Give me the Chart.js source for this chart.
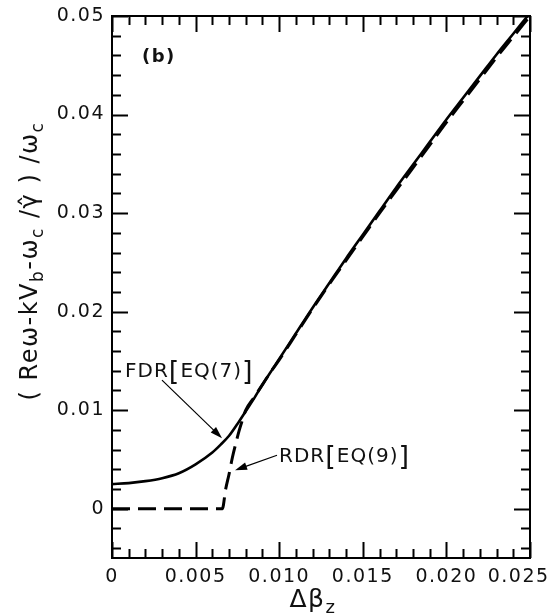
<!DOCTYPE html>
<html><head><meta charset="utf-8">
<script src="https://cdn.jsdelivr.net/npm/chart.js@4"></script>
<style>html,body{margin:0;padding:0;background:#fff}canvas{display:block}</style>
</head><body>
<canvas id="c" width="555" height="614"></canvas>
<script>
// ---- data ----
const fdrX = [0, 0.001, 0.002, 0.003, 0.004, 0.005, 0.006, 0.0065, 0.007, 0.0075, 0.008, 0.0085, 0.009, 0.0095, 0.010, 0.011, 0.012, 0.013, 0.014, 0.015, 0.016, 0.017, 0.018, 0.019, 0.020, 0.021, 0.022, 0.023, 0.024, 0.025];
const fdrY = [0.0025, 0.0026, 0.0028, 0.0031, 0.0036, 0.0045, 0.0057, 0.0065, 0.0074, 0.0086, 0.0099, 0.0112, 0.0126, 0.0139, 0.0152, 0.0178, 0.0204, 0.0229, 0.0254, 0.0278, 0.0302, 0.0326, 0.0349, 0.0372, 0.0395, 0.0417, 0.0439, 0.0461, 0.0482, 0.0503];
const rdrX = [0, 0.0066, 0.0068, 0.0070, 0.0072, 0.0074, 0.0076, 0.0078, 0.0080, 0.0085, 0.0090, 0.0095, 0.010, 0.011, 0.012, 0.013, 0.014, 0.015, 0.016, 0.017, 0.018, 0.019, 0.020, 0.021, 0.022, 0.023, 0.024, 0.025];
const rdrY = [0, 0, 0.0020, 0.0035, 0.0052, 0.0066, 0.0079, 0.0090, 0.0100, 0.0113, 0.0126, 0.0139, 0.0151, 0.0177, 0.0203, 0.0228, 0.0252, 0.0276, 0.0300, 0.0323, 0.0346, 0.0369, 0.0392, 0.0414, 0.0436, 0.0458, 0.0479, 0.0500];
const xTickValues = [0, 0.005, 0.010, 0.015, 0.020, 0.025];
const xTickLabels = ['0', '0.005', '0.010', '0.015', '0.020', '0.025'];
const yTickValues = [0, 0.01, 0.02, 0.03, 0.04, 0.05];
const yTickLabels = ['0', '0.01', '0.02', '0.03', '0.04', '0.05'];
const xMinorStep = 0.001;
const yMinorStep = 0.002;
const panelLabel = '(b)';
const fdrLabel = ['FDR', '[', 'EQ(7)', ']'];
const rdrLabel = ['RDR', '[', 'EQ(9)', ']'];

// ---- annotation placement (data units) ----
const notes = {
  panel: {x: 0.00179, y: 0.0453},
  fdrText: {x: 0.00078, y: 0.01335},
  rdrText: {x: 0.00999, y: 0.00472},
  fdrArrow: {x1: 0.00299, y1: 0.01305, x2: 0.00658, y2: 0.00716},
  rdrArrow: {x1: 0.00987, y1: 0.00543, x2: 0.00736, y2: 0.00391}
};

const FONT = '"DejaVu Sans", sans-serif';
const toPts = (xs, ys) => xs.map((x, i) => ({x, y: ys[i]}));
const near = (a, b) => Math.abs(a - b) < 1e-9;

function drawRich(ctx, segs, x, y) {
  let cx = x;
  for (const s of segs) {
    ctx.font = (s.w || '') + ' ' + s.size + 'px ' + FONT;
    ctx.fillText(s.t, cx, y + (s.dy || 0));
    cx += ctx.measureText(s.t).width;
  }
  return cx - x;
}
function richWidth(ctx, segs) {
  let w = 0;
  for (const s of segs) { ctx.font = (s.w || '') + ' ' + s.size + 'px ' + FONT; w += ctx.measureText(s.t).width; }
  return w;
}
function arrow(ctx, x1, y1, x2, y2) {
  const a = Math.atan2(y2 - y1, x2 - x1), L = 12, H = 3.8;
  ctx.lineWidth = 1.2;
  ctx.beginPath(); ctx.moveTo(x1, y1); ctx.lineTo(x2 - L * 0.7 * Math.cos(a), y2 - L * 0.7 * Math.sin(a)); ctx.stroke();
  ctx.beginPath();
  ctx.moveTo(x2, y2);
  ctx.lineTo(x2 - L * Math.cos(a) + H * Math.sin(a), y2 - L * Math.sin(a) - H * Math.cos(a));
  ctx.lineTo(x2 - L * Math.cos(a) - H * Math.sin(a), y2 - L * Math.sin(a) + H * Math.cos(a));
  ctx.closePath(); ctx.fill();
}

const framePlugin = {
  id: 'frame',
  beforeDraw(chart) { chart.ctx.letterSpacing = '1.5px'; },
  afterDatasetsDraw(chart) {
    const ctx = chart.ctx, a = chart.chartArea;
    const xs = chart.scales.x, ys = chart.scales.y;
    ctx.save();
    ctx.strokeStyle = '#000'; ctx.fillStyle = '#000';
    ctx.lineWidth = 2;
    ctx.strokeRect(a.left, a.top, a.right - a.left, a.bottom - a.top);
    const MAJ = 16, MIN = 9;
    ctx.lineWidth = 2;
    ctx.beginPath();
    for (let i = 0; i <= Math.round((xs.max - xs.min) / xMinorStep); i++) {
      const v = xs.min + i * xMinorStep;
      const px = Math.round(xs.getPixelForValue(v)) + 0.5;
      const len = xTickValues.some(t => near(t, v)) ? MAJ : MIN;
      ctx.moveTo(px, a.bottom); ctx.lineTo(px, a.bottom - len);
      ctx.moveTo(px, a.top); ctx.lineTo(px, a.top + len);
    }
    const y0 = Math.ceil(ys.min / yMinorStep - 1e-9);
    const y1 = Math.floor(ys.max / yMinorStep + 1e-9);
    for (let k = y0; k <= y1; k++) {
      const v = k * yMinorStep;
      const py = Math.round(ys.getPixelForValue(v)) + 0.5;
      ctx.moveTo(a.left, py); ctx.lineTo(a.left + MIN, py);
      ctx.moveTo(a.right, py); ctx.lineTo(a.right - MIN, py);
    }
    for (const v of yTickValues) {
      const py = Math.round(ys.getPixelForValue(v)) + 0.5;
      ctx.moveTo(a.left, py); ctx.lineTo(a.left + MAJ, py);
      ctx.moveTo(a.right, py); ctx.lineTo(a.right - MAJ, py);
    }
    ctx.stroke();

    ctx.fillStyle = '#111';
    ctx.textBaseline = 'alphabetic'; ctx.textAlign = 'left';
    drawRich(ctx, [{t: panelLabel, size: 18, w: 'bold'}],
      xs.getPixelForValue(notes.panel.x), ys.getPixelForValue(notes.panel.y));
    const lab = (parts, p) => drawRich(ctx, [
      {t: parts[0], size: 20}, {t: parts[1], size: 27, dy: 3}, {t: parts[2], size: 20}, {t: parts[3], size: 27, dy: 3}
    ], xs.getPixelForValue(p.x), ys.getPixelForValue(p.y));
    ctx.letterSpacing = '1px';
    lab(fdrLabel, notes.fdrText);
    lab(rdrLabel, notes.rdrText);
    ctx.letterSpacing = '1.5px';
    ctx.fillStyle = '#000'; ctx.strokeStyle = '#000';
    for (const k of ['fdrArrow', 'rdrArrow']) {
      const n = notes[k];
      arrow(ctx, xs.getPixelForValue(n.x1), ys.getPixelForValue(n.y1), xs.getPixelForValue(n.x2), ys.getPixelForValue(n.y2));
    }

    ctx.fillStyle = '#111';
    const xt = [{t: 'Δβ', size: 25}, {t: 'z', size: 18, dy: 6}];
    const xw = richWidth(ctx, xt);
    drawRich(ctx, xt, 313 - xw / 2, 607);

    const yt = [
      {t: '( Reω-kV', size: 24}, {t: 'b', size: 17, dy: 6}, {t: '-ω', size: 24}, {t: 'c', size: 17, dy: 6},
      {t: ' /γ̂ )', size: 24}, {t: ' /ω', size: 24}, {t: 'c', size: 17, dy: 6}
    ];
    const yw = richWidth(ctx, yt);
    ctx.translate(37, 261);
    ctx.rotate(-Math.PI / 2);
    drawRich(ctx, yt, -yw / 2, 0);
    ctx.restore();
  }
};

new Chart(document.getElementById('c'), {
  type: 'line',
  data: {
    datasets: [
      {label: 'FDR [EQ(7)]', data: toPts(fdrX, fdrY), borderColor: '#000', borderWidth: 2.6,
       pointRadius: 0, fill: false, cubicInterpolationMode: 'monotone'},
      {label: 'RDR [EQ(9)]', data: toPts(rdrX, rdrY), borderColor: '#000', borderWidth: 3,
       borderDash: [18, 8], pointRadius: 0, fill: false, cubicInterpolationMode: 'monotone'}
    ]
  },
  options: {
    responsive: false,
    animation: false,
    devicePixelRatio: 1,
    layout: {padding: {top: 16, right: 25, left: 0, bottom: 0}},
    plugins: {legend: {display: false}, tooltip: {enabled: false}},
    scales: {
      x: {
        type: 'linear', min: 0, max: 0.025,
        grid: {display: false, drawTicks: false}, border: {display: false},
        ticks: {
          stepSize: 0.005, autoSkip: false, maxRotation: 0, padding: 8, color: '#111',
          font: {family: FONT, size: 19},
          callback: (v) => {
            const i = xTickValues.findIndex(t => near(t, v));
            if (i < 0) return null;
            return i === xTickValues.length - 1 ? xTickLabels[i] + '   ' : xTickLabels[i];
          }
        },
        afterFit: (s) => { s.height = 56; s.paddingLeft = 0; s.paddingRight = 0; }
      },
      y: {
        type: 'linear', min: -0.005, max: 0.05,
        grid: {display: false, drawTicks: false}, border: {display: false},
        ticks: {
          stepSize: 0.01, autoSkip: false, padding: 7, color: '#111',
          font: {family: FONT, size: 19},
          callback: (v) => {
            const i = yTickValues.findIndex(t => near(t, v));
            return i < 0 ? null : yTickLabels[i];
          }
        },
        afterFit: (s) => { s.width = 112; s.paddingTop = 0; s.paddingBottom = 0; }
      }
    }
  },
  plugins: [framePlugin]
});
</script>
</body></html>
